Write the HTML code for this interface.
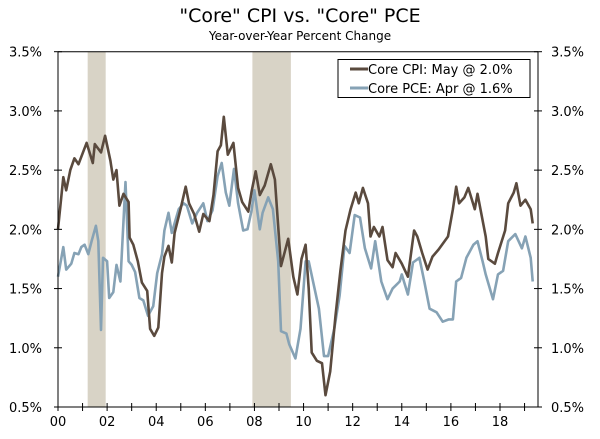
<!DOCTYPE html>
<html><head><meta charset="utf-8"><style>
body{margin:0;background:#fff;}
svg text{font-family:"DejaVu Sans","Liberation Sans",sans-serif;fill:#000;}
</style></head><body>
<svg id="chart" width="600" height="434" viewBox="0 0 600 434" xmlns="http://www.w3.org/2000/svg">
<text x="300" y="22" text-anchor="middle" font-size="19">"Core" CPI vs. "Core" PCE</text>
<text x="300" y="40" text-anchor="middle" font-size="12">Year-over-Year Percent Change</text>
<g id="rec"></g><g id="grid"></g><g id="series"></g><g id="axes"></g>
<g>
<rect x="338" y="59.5" width="192" height="38" fill="#fff" stroke="#000" stroke-width="1"/>
<g><line x1="350" y1="69" x2="368" y2="69" stroke="#5a4a3e" stroke-width="3"/><text x="368" y="74" font-size="13">Core CPI: May @ 2.0%</text></g>
<g><line x1="350" y1="88" x2="368" y2="88" stroke="#86a2b5" stroke-width="3"/><text x="368" y="93" font-size="13">Core PCE: Apr @ 1.6%</text></g>
</g>
</svg>
<script>
const cpiMonths=[0,2.6,4,6,8,10,14,17,18,21,23,25.6,27,28.6,30,32,34.5,35,36.8,39,41,43.6,45,47,49,50.8,52,54,55.6,57,60,62.4,64,66.5,69,71,74,76,78,79.6,81,83,85.7,88,90,93,94.6,96.6,98.6,101,104,106,109,112.5,115,117,119,121,122.5,124,126.5,129,130.7,133,135.6,138,140.5,143,145.5,147,149,151.5,152.7,154.4,157,158.6,161,163.5,165,168,171,174,175.6,178,180.6,183,186,190.6,193,194.6,196,198.6,200.5,203.7,205,209,210.3,213.5,215,218.5,220,222.7,224,226,228.4,231,232];
const cpiValues=[2.0,2.44,2.33,2.5,2.6,2.55,2.73,2.56,2.72,2.65,2.79,2.58,2.42,2.5,2.2,2.3,2.23,1.93,1.87,1.73,1.55,1.48,1.16,1.1,1.17,1.63,1.77,1.86,1.72,1.97,2.18,2.36,2.22,2.13,1.98,2.13,2.07,2.29,2.66,2.71,2.95,2.63,2.73,2.35,2.23,2.15,2.32,2.49,2.29,2.37,2.55,2.42,1.69,1.92,1.6,1.45,1.75,1.87,1.5,0.96,0.89,0.87,0.6,0.8,1.27,1.65,1.99,2.17,2.31,2.22,2.35,2.22,1.94,2.02,1.94,2.02,1.74,1.68,1.8,1.71,1.6,1.99,1.94,1.8,1.66,1.77,1.83,1.94,2.17,2.36,2.22,2.27,2.35,2.17,2.3,1.94,1.75,1.71,1.8,1.99,2.22,2.31,2.39,2.2,2.25,2.17,2.05];
const pceMonths=[0,2.6,4,6.5,8,10,11.4,13,14.8,16.4,18.5,19.7,21,22,24,25,27,28.6,30.5,33,34.5,36,37.7,39.8,41.7,44,46.5,48.5,50.8,52,54,55.6,59,61.4,63,65.6,68,71,73,75.5,78,80,82,83.7,86,88,90.5,92.6,94.6,96,98.6,100,102.7,105,107.6,109,111.6,113,116,118.5,121,122.5,125,127.5,130,132,135,137.6,140,142.5,145,147.6,150,153,155,158,161,163.5,167,168,171,173.5,176.6,179,181.6,185,188,191,193,194.6,197,199.6,203,205,207.5,209,212.6,215,217.5,220,223.5,226.7,228.4,231,232];
const pceValues=[1.6,1.85,1.66,1.71,1.8,1.79,1.85,1.87,1.79,1.9,2.03,1.9,1.15,1.76,1.73,1.42,1.47,1.7,1.56,2.4,1.73,1.7,1.64,1.42,1.4,1.27,1.35,1.63,1.79,1.99,2.14,1.97,2.17,2.22,2.2,2.05,2.14,2.22,2.07,2.16,2.45,2.56,2.31,2.2,2.51,2.22,1.99,2.0,2.16,2.33,2.0,2.14,2.27,2.17,1.73,1.14,1.12,1.03,0.91,1.16,1.73,1.73,1.53,1.33,0.93,0.93,1.16,1.44,1.86,1.8,2.12,2.1,1.84,1.67,1.9,1.56,1.41,1.5,1.56,1.62,1.45,1.72,1.76,1.56,1.33,1.3,1.22,1.24,1.24,1.56,1.59,1.76,1.87,1.9,1.73,1.62,1.41,1.62,1.65,1.9,1.96,1.84,1.94,1.76,1.56];
const yTicks=[0.5,1.0,1.5,2.0,2.5,3.0,3.5];
const xTickYears=[0,2,4,6,8,10,12,14,16,18];
const xTickLabels=["00","02","04","06","08","10","12","14","16","18"];
const recessions=[[14.5,23.3],[95,113.8]];
const NS="http://www.w3.org/2000/svg";
const X0=58,X1=538,Y0=407,Y1=51.7;
function xs(m){return X0+m*(500-58)/216;}
function ys(v){return Y0-(v-0.5)*(Y0-Y1)/3;}
function mk(t,a,p){const e=document.createElementNS(NS,t);for(const k in a)e.setAttribute(k,a[k]);p.appendChild(e);return e;}
const rec=document.getElementById('rec');
recessions.forEach((r,i)=>{const e=mk('rect',{x:xs(r[0]),y:Y1,width:xs(r[1])-xs(r[0]),height:Y0-Y1,fill:'#d8d3c6'},rec);

});
const ser=document.getElementById('series');
function line(ms,vs,col,name){let d='';ms.forEach((m,i)=>{d+=(i?'L':'M')+xs(m).toFixed(1)+','+ys(vs[i]).toFixed(1);});
const p=mk('path',{d:d,fill:'none',stroke:col,'stroke-width':2.6,'stroke-linejoin':'round'},ser);

}
line(pceMonths,pceValues,'#86a2b5','core-pce-line');
line(cpiMonths,cpiValues,'#5a4a3e','core-cpi-line');
const ax=document.getElementById('axes');
mk('path',{d:`M${X0},${Y1}V${Y0}H${X1}V${Y1}`,fill:'none',stroke:'#000','stroke-width':1},ax);
mk('line',{x1:X0,y1:Y1,x2:X1,y2:Y1,stroke:'#000','stroke-width':1},ax);
yTicks.forEach(v=>{const y=ys(v);
mk('line',{x1:X0-4,y1:y,x2:X0+4,y2:y,stroke:'#000'},ax);
mk('line',{x1:X1-4,y1:y,x2:X1+4,y2:y,stroke:'#000'},ax);
const l=mk('text',{x:42,y:y+5,'text-anchor':'end','font-size':13},ax);l.textContent=v.toFixed(1)+'%';


const r=mk('text',{x:551,y:y+5,'font-size':13},ax);r.textContent=v.toFixed(1)+'%';

});
for(let yr=0;yr<=19;yr++){mk('line',{x1:xs(yr*12),y1:Y0-4,x2:xs(yr*12),y2:Y0+4,stroke:'#000'},ax);}
xTickYears.forEach((yr,i)=>{const t=mk('text',{x:xs(yr*12),y:426,'text-anchor':'middle','font-size':13},ax);t.textContent=xTickLabels[i];

});
</script>
</body></html>
